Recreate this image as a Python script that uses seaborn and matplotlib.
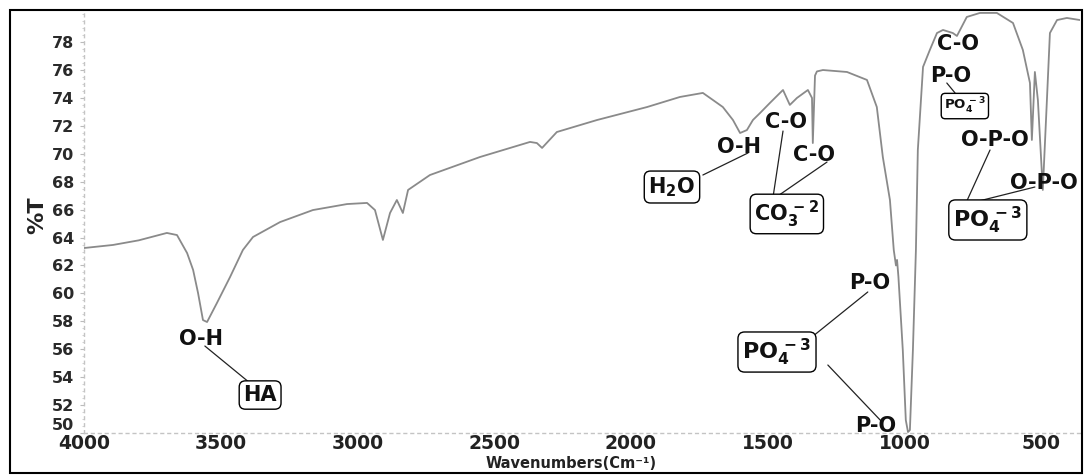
import matplotlib
matplotlib.use("Agg")
import matplotlib.pyplot as plt
from matplotlib.patches import Rectangle
from matplotlib.ticker import MultipleLocator
import matplotlib.transforms as mtransforms
import seaborn as sns
import pandas as pd

# ---- data ----
wavenumber = [4000, 3894, 3800, 3697, 3660, 3623, 3601, 3583, 3565, 3550, 3514, 3466,
              3419, 3382, 3283, 3163, 3038, 2965, 2936, 2907, 2881, 2856, 2834, 2815,
              2735, 2552, 2369, 2344, 2325, 2271, 2124, 1941, 1821, 1737, 1700, 1664,
              1627, 1601, 1576, 1554, 1528, 1492, 1455, 1444, 1419, 1393, 1353, 1338,
              1335, 1327, 1320, 1298, 1210, 1137, 1101, 1079, 1053, 1039, 1031, 1027,
              1022, 1006, 995, 987, 980, 969, 958, 951, 932, 907, 881, 859, 823, 808,
              772, 724, 662, 603, 567, 541, 534, 523, 512, 494, 479, 468, 442, 406, 358]
transmittance = [63.25, 63.47, 63.8, 64.33, 64.18, 62.89, 61.68, 60.03, 58.09, 57.95, 59.31, 61.17,
                 63.11, 64.04, 65.11, 65.97, 66.40, 66.48, 65.97, 63.83, 65.76, 66.69, 65.76, 67.41,
                 68.48, 69.77, 70.85, 70.77, 70.42, 71.56, 72.42, 73.35, 74.07, 74.36, 73.85, 73.35,
                 72.42, 71.49, 71.70, 72.42, 72.92, 73.64, 74.36, 74.57, 73.50, 74.00, 74.57, 74.00,
                 70.77, 75.6, 75.9, 76.00, 75.86, 75.29, 73.35, 69.77, 66.69, 63.11, 62.0, 62.4,
                 61.2, 55.95, 50.93, 50.07, 50.21, 55.95, 63.11, 70.27, 76.22, 77.44, 78.65, 78.87, 78.65, 78.44,
                 79.80, 80.09, 80.09, 79.37, 77.44, 75.07, 70.99, 75.86, 73.85, 67.41, 73.85, 78.65, 79.58, 79.73, 79.58]

x_ticks = [4000, 3500, 3000, 2500, 2000, 1500, 1000, 500]
y_ticks = list(range(50, 80, 2))

sns.set_style("white")
plt.rcParams["font.family"] = ["DejaVu Sans"]
plt.rcParams["font.weight"] = "bold"
plt.rcParams["mathtext.fontset"] = "dejavusans"

df = pd.DataFrame({"wn": wavenumber, "T": transmittance})

fig = plt.figure(figsize=(10.84, 4.75), dpi=100)
ax = fig.add_axes([84 / 1084, 42 / 475, (1080 - 84) / 1084, (465 - 42) / 475])
sns.lineplot(data=df, x="wn", y="T", ax=ax, color="#8a8a8a", linewidth=1.3)

ax.set_xlim(4000, 358)
ax.set_ylim(50, 80.3)
ax.set_xticks(x_ticks)
ax.set_xticklabels([str(t) for t in x_ticks], fontsize=13.5, fontweight="bold", color="#222222")
ax.set_yticks(y_ticks)
ax.set_yticklabels([str(t) for t in y_ticks], fontsize=11.5, fontweight="bold", color="#2a2a2a")
ax.yaxis.set_minor_locator(MultipleLocator(0.5))
ax.xaxis.set_minor_locator(MultipleLocator(100))
ax.tick_params(axis="y", which="major", length=3, color="#bbbbbb", pad=4, left=True)
ax.tick_params(axis="y", which="minor", length=1.5, color="#cccccc", left=True)
ax.tick_params(axis="x", which="major", length=0, pad=0.5)
ax.tick_params(axis="x", which="minor", length=0)
ax.set_xlabel("")
ax.set_ylabel("")
for s in ["top", "right"]:
    ax.spines[s].set_visible(False)
for s in ["left", "bottom"]:
    ax.spines[s].set_color("#c4c4c4")
    ax.spines[s].set_linestyle((0, (2, 3)))
    ax.spines[s].set_linewidth(1.0)

# lift the lowest y label above the x tick labels, as in the reference
first = ax.get_yticklabels()[0]
first.set_transform(first.get_transform() + mtransforms.ScaledTranslation(0, 9 / 100, fig.dpi_scale_trans))

fig.text(37 / 1084, 1 - 215 / 475, "%T", rotation=90, fontsize=16, fontweight="bold",
         ha="center", va="center", color="#222222")
fig.text(571 / 1084, 1 - 463 / 475, "Wavenumbers(Cm\u207b\u00b9)", fontsize=10.5,
         fontweight="bold", ha="center", va="center", color="#222222")

box = dict(boxstyle="round,pad=0.2,rounding_size=0.3", fc="white", ec="black", lw=1.0)
lab = dict(fontsize=15, fontweight="bold", ha="center", va="center", color="#111111")

def txt(x, y, s, boxed=False, size=15):
    kw = dict(lab)
    kw["fontsize"] = size
    if boxed:
        kw["bbox"] = box
    ax.text(x, y, s, zorder=5, **kw)

def seg(x0, y0, x1, y1):
    ax.plot([x0, x1], [y0, y1], color="#222222", lw=0.9, zorder=4)

PO4 = r"$\mathbf{PO_4^{\,-3}}$"
# O-H / HA
txt(3572, 56.73, "O-H")
txt(3356, 52.72, "HA", boxed=True)
seg(3558, 56.23, 3393, 53.58)
# water
txt(1605, 70.49, "O-H")
txt(1850, 67.62, r"$\mathbf{H_2O}$", boxed=True)
seg(1572, 70.06, 1737, 68.48)
# carbonate
txt(1433, 72.28, "C-O")
txt(1331, 69.91, "C-O")
txt(1430, 65.69, r"$\mathbf{CO_3^{\,-2}}$", boxed=True)
seg(1444, 71.63, 1481, 66.83)
seg(1283, 69.41, 1474, 66.83)
# right side
txt(804, 77.87, "C-O")
txt(830, 75.57, "P-O")
txt(779, 73.42, PO4, boxed=True, size=9.5)
seg(845, 75.07, 815, 74.36)
txt(669, 70.99, "O-P-O")
txt(490, 67.91, "O-P-O")
txt(695, 65.26, PO4, boxed=True, size=16)
seg(687, 70.27, 775, 66.48)
seg(523, 67.62, 772, 66.40)
# main phosphate
txt(1126, 60.74, "P-O")
txt(1466, 55.80, PO4, boxed=True, size=16)
seg(1134, 60.10, 1338, 56.88)
seg(1280, 54.87, 1082, 50.79)
txt(1104, 50.50, "P-O")

fig.patches.append(Rectangle((10 / 1084, 2 / 475), 1072 / 1084, 463 / 475,
                             transform=fig.transFigure, fill=False, ec="black", lw=1.5))

fig.savefig("out.png", dpi=100, facecolor="white")
